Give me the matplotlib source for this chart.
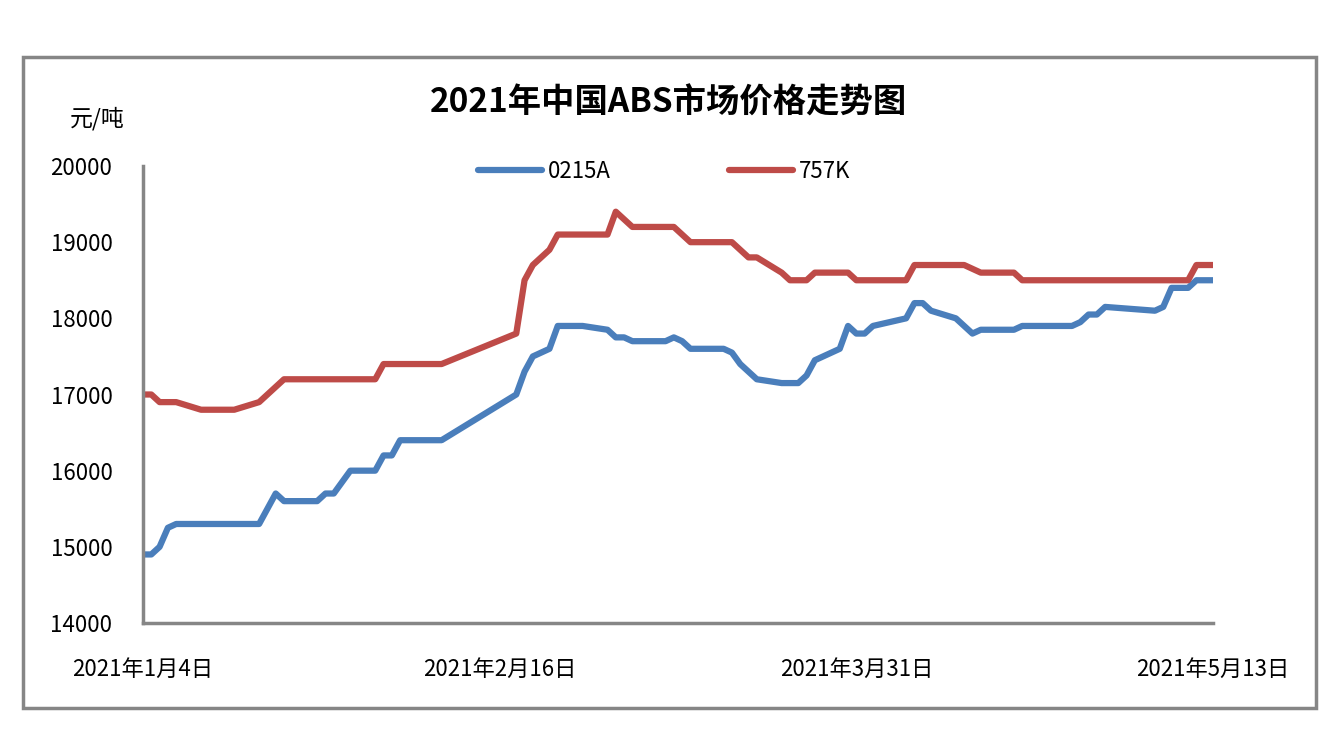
import matplotlib
matplotlib.use("Agg")
import matplotlib.pyplot as plt
import matplotlib.patches as mpatches
import numpy as np
import pandas as pd

plt.rcParams['font.family'] = ['Noto Sans CJK SC', 'DejaVu Sans']

start = pd.Timestamp("2021-01-04")

# 0215A: (day offset from 2021-01-04, price)
a_days = [0, 1, 2, 3, 4, 14, 16, 17, 21, 22, 23, 25, 28, 29, 30, 31, 36, 45, 46, 47, 49, 50, 53,
          56, 57, 58, 59, 63, 64, 65, 66, 70, 71, 72, 74, 77, 79, 80, 81, 84, 85, 86, 87, 88,
          92, 93, 94, 95, 98, 100, 101, 105, 106, 112, 113, 114, 115, 116, 122, 123, 124, 126, 127, 129]
a_vals = [14900, 14900, 15000, 15250, 15300, 15300, 15700, 15600, 15600, 15700, 15700, 16000, 16000,
          16200, 16200, 16400, 16400, 17000, 17300, 17500, 17600, 17900, 17900,
          17850, 17750, 17750, 17700, 17700, 17750, 17700, 17600, 17600, 17550, 17400, 17200, 17150,
          17150, 17250, 17450, 17600, 17900, 17800, 17800, 17900,
          18000, 18200, 18200, 18100, 18000, 17800, 17850, 17850, 17900, 17900, 17950, 18050, 18050,
          18150, 18100, 18150, 18400, 18400, 18500, 18500]

# 757K
k_days = [0, 1, 2, 4, 7, 11, 14, 17, 28, 29, 36, 45, 46, 47, 49, 50, 56, 57, 59, 64, 66, 71, 73, 74,
          77, 78, 80, 81, 85, 86, 92, 93, 99, 101, 105, 106, 126, 127, 129]
k_vals = [17000, 17000, 16900, 16900, 16800, 16800, 16900, 17200, 17200, 17400, 17400, 17800, 18500,
          18700, 18900, 19100, 19100, 19400, 19200, 19200, 19000, 19000, 18800, 18800,
          18600, 18500, 18500, 18600, 18600, 18500, 18500, 18700, 18700, 18600, 18600, 18500, 18500,
          18700, 18700]

tick_days = [0, 43, 86, 129]
tick_labels = ["2021年1月4日", "2021年2月16日", "2021年3月31日", "2021年5月13日"]
y_ticks = [14000, 15000, 16000, 17000, 18000, 19000, 20000]

W, H = 1340, 754
fig = plt.figure(figsize=(13.4, 7.54), dpi=100)
fig.patch.set_facecolor("white")

# outer border
fig.add_artist(mpatches.Rectangle((23 / W, 1 - 708 / H), (1316 - 23) / W, (708 - 57) / H,
                                  transform=fig.transFigure, fill=False,
                                  edgecolor="#868686", linewidth=2.5))

ax = fig.add_axes([143 / W, 1 - 623 / H, (1213 - 143) / W, (623 - 166) / H])

blue = "#4a7ebb"
red = "#be4b48"
a_dates = [start + pd.Timedelta(days=d) for d in a_days]
k_dates = [start + pd.Timedelta(days=d) for d in k_days]
ax.plot(a_dates, a_vals, color=blue, lw=4.5, solid_capstyle="round", solid_joinstyle="round", label="0215A")
ax.plot(k_dates, k_vals, color=red, lw=4.5, solid_capstyle="round", solid_joinstyle="round", label="757K")

ax.set_xlim(start, start + pd.Timedelta(days=129))
ax.set_ylim(14000, 20000)
ax.set_yticks(y_ticks)
ax.set_yticklabels([str(v) for v in y_ticks], fontsize=16)
ax.set_xticks([start + pd.Timedelta(days=d) for d in tick_days])
ax.set_xticklabels(tick_labels, fontsize=16)
ax.tick_params(axis="y", length=0, pad=22)
ax.tick_params(axis="x", length=0, pad=25)

for s in ["top", "right"]:
    ax.spines[s].set_visible(False)
for s in ["left", "bottom"]:
    ax.spines[s].set_color("#868686")
    ax.spines[s].set_linewidth(2.5)

fig.text(669 / W, 1 - 103 / H, "2021年中国ABS市场价格走势图", ha="center", va="center",
         fontsize=24, fontweight="bold")
fig.text(97 / W, 1 - 119 / H, "元/吨", ha="center", va="center", fontsize=16.5)

leg = ax.legend(loc="center", bbox_to_anchor=(664 / W, 1 - 171 / H), bbox_transform=fig.transFigure,
                ncol=2, frameon=False, fontsize=16, handlelength=2.9, handletextpad=0.25,
                columnspacing=5.3)

fig.savefig("out.png", dpi=100)
